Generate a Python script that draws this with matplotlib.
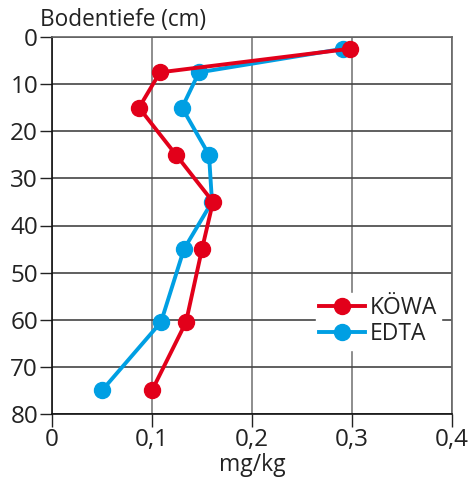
import matplotlib
matplotlib.use("Agg")
import matplotlib.pyplot as plt
from matplotlib.ticker import FuncFormatter

# Werte
tiefe_koewa = [2.5, 7.5, 15, 25, 35, 45, 60.5, 75]
koewa = [0.298, 0.108, 0.087, 0.124, 0.161, 0.150, 0.134, 0.100]
tiefe_edta = [2.5, 7.5, 15, 25, 35, 45, 60.5, 75]
edta = [0.291, 0.147, 0.130, 0.157, 0.160, 0.132, 0.109, 0.050]

xticks = [0, 0.1, 0.2, 0.3, 0.4]
yticks = [0, 10, 20, 30, 40, 50, 60, 70, 80]

rot = "#e2001a"
blau = "#009fe3"

plt.rcParams['font.family'] = ['Open Sans', 'DejaVu Sans']

fig = plt.figure(figsize=(4.70, 4.79), dpi=100)
ax = fig.add_axes([52/470, 1 - 414/479, 400/470, 377/479])

ax.plot(edta, tiefe_edta, color=blau, lw=2.8, marker='o', ms=11.5, label='EDTA', zorder=3)
ax.plot(koewa, tiefe_koewa, color=rot, lw=2.8, marker='o', ms=11.5, label='KÖWA', zorder=4)

ax.set_xlim(0, 0.4)
ax.set_ylim(80, 0)
ax.set_xticks(xticks)
ax.set_yticks(yticks)
ax.xaxis.set_major_formatter(FuncFormatter(lambda v, p: "0" if v == 0 else ("%.1f" % v).replace('.', ',')))
ax.tick_params(axis='both', length=9, width=1, color='#222222', labelsize=17.5, labelcolor='#222222')
ax.tick_params(axis='y', pad=1)
ax.tick_params(axis='x', pad=1)

ax.xaxis.grid(True, color='#7a7a7a', lw=1.2)
ax.yaxis.grid(True, color='#444444', lw=1.2)
ax.set_axisbelow(True)
for s in ['left', 'bottom']:
    ax.spines[s].set_color('#111111')
    ax.spines[s].set_linewidth(1.2)
for s in ['top', 'right']:
    ax.spines[s].set_color('#666666')
    ax.spines[s].set_linewidth(1.2)

handles, labels = ax.get_legend_handles_labels()
leg = ax.legend(handles[::-1], labels[::-1], loc='upper left', bbox_to_anchor=(0.66, 0.322),
                frameon=True, fontsize=16.5, handlelength=2.0, handletextpad=0.2,
                labelspacing=0.1, borderpad=0.15, borderaxespad=0)
leg.get_frame().set_edgecolor('white')
leg.get_frame().set_facecolor('white')
leg.get_frame().set_alpha(1)
leg.get_frame().set_boxstyle('square', pad=0)
for t in leg.get_texts():
    t.set_color('#222222')

fig.text(40/470, 1 - 20/479, 'Bodentiefe (cm)', fontsize=16.3, color='#222222', va='center', ha='left')
fig.text(252/470, 1 - 465/479, 'mg/kg', fontsize=16.5, color='#222222', va='center', ha='center')

fig.savefig('out.png', dpi=100)
